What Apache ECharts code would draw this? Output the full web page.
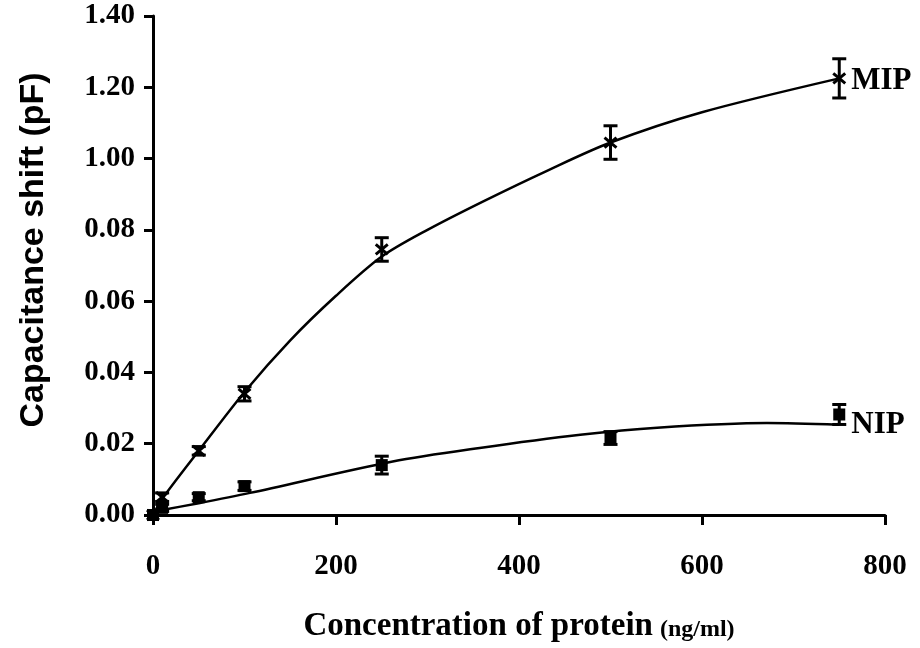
<!DOCTYPE html>
<html>
<head>
<meta charset="utf-8">
<script src="https://cdn.jsdelivr.net/npm/echarts@6/dist/echarts.min.js"></script>
<style>
  html, body { margin: 0; padding: 0; background: #ffffff; }
  #chart { width: 920px; height: 648px; }
</style>
</head>
<body>
<div id="chart"></div>
<script>
// Measured points (mean ± error) at each protein concentration, ng/ml
const concentrations = [0, 10, 50, 100, 250, 500, 750];
const mipValues = [0, 0.05, 0.18, 0.34, 0.745, 1.045, 1.225];
const mipErrors = [0, 0.012, 0.012, 0.02, 0.033, 0.047, 0.055];
const nipValues = [0, 0.02, 0.05, 0.081, 0.14, 0.216, 0.282];
const nipErrors = [0, 0.01, 0.01, 0.012, 0.025, 0.018, 0.028];

// Fitted trend curves
const mipFitX = [0, 10, 50, 100, 150, 200, 250, 300, 361, 430, 500, 600, 750];
const mipFitY = [0, 0.045, 0.18, 0.345, 0.49, 0.615, 0.725, 0.8, 0.88, 0.965, 1.045, 1.13, 1.225];
const nipFitX = [0, 10, 50, 106, 262, 357, 467, 551, 671, 750];
const nipFitY = [0.008, 0.014, 0.033, 0.062, 0.15, 0.188, 0.225, 0.245, 0.258, 0.253];

// Tick labels as printed on the value axis
const yTickLabels = ['0.00', '0.02', '0.04', '0.06', '0.08', '1.00', '1.20', '1.40'];
const xTickLabels = ['0', '200', '400', '600', '800'];

const serif = '"Liberation Serif", "Times New Roman", serif';
const sans = '"Liberation Sans", Arial, sans-serif';

function zip(xs, ys, es) {
  return xs.map((x, i) => es ? [x, ys[i], es[i]] : [x, ys[i]]);
}

// Error bar with caps plus a marker drawn at each mean
function pointWithError(markerKind) {
  return function (params, api) {
    const x = api.value(0), y = api.value(1), e = api.value(2);
    const c = api.coord([x, y]);
    const top = api.coord([x, y + e]);
    const bot = api.coord([x, y - e]);
    const stroke = { stroke: '#000', lineWidth: 3 };
    const cap = 7;
    const children = [];
    if (e > 0) {
      children.push(
        { type: 'line', shape: { x1: c[0], y1: top[1], x2: c[0], y2: bot[1] }, style: stroke },
        { type: 'line', shape: { x1: c[0] - cap, y1: top[1], x2: c[0] + cap, y2: top[1] }, style: stroke },
        { type: 'line', shape: { x1: c[0] - cap, y1: bot[1], x2: c[0] + cap, y2: bot[1] }, style: stroke }
      );
    }
    if (markerKind === 'cross') {
      const s = 6;
      children.push(
        { type: 'line', shape: { x1: c[0] - s, y1: c[1] - s + 1, x2: c[0] + s, y2: c[1] + s - 1 }, style: stroke },
        { type: 'line', shape: { x1: c[0] - s, y1: c[1] + s - 1, x2: c[0] + s, y2: c[1] - s + 1 }, style: stroke }
      );
    } else {
      const s = 6;
      children.push({ type: 'rect', shape: { x: c[0] - s, y: c[1] - s, width: 2 * s, height: 2 * s }, style: { fill: '#000' } });
    }
    return { type: 'group', children: children };
  };
}

const chart = echarts.init(document.getElementById('chart'), null, { renderer: 'canvas' });

const endLabelStyle = {
  show: true,
  formatter: '{a}',
  distance: 12,
  offset: [0, 3],
  color: '#000',
  fontFamily: serif,
  fontWeight: 'bold',
  fontSize: 31
};

chart.setOption({
  animation: false,
  backgroundColor: '#ffffff',
  grid: { left: 153, right: 35, top: 16, bottom: 133, containLabel: false },
  graphic: [
    {
      type: 'text',
      x: 34,
      y: 250,
      rotation: Math.PI / 2,
      style: {
        text: 'Capacitance shift (pF)',
        fill: '#000',
        font: 'bold 34px ' + sans,
        align: 'center',
        verticalAlign: 'middle'
      }
    }
  ],
  xAxis: {
    type: 'value',
    min: 0,
    max: 800,
    interval: 200,
    name: '{a|Concentration of protein}{b|(ng/ml)}',
    nameLocation: 'middle',
    nameGap: 92,
    nameTextStyle: {
      rich: {
        a: { fontFamily: serif, fontWeight: 'bold', fontSize: 33, color: '#000', lineHeight: 36, verticalAlign: 'bottom' },
        b: { fontFamily: serif, fontWeight: 'bold', fontSize: 24, color: '#000', lineHeight: 36, verticalAlign: 'bottom', padding: [0, 0, 1, 7] }
      }
    },
    axisLine: { show: true, onZero: false, lineStyle: { color: '#000', width: 3 } },
    axisTick: { show: true, length: 10, lineStyle: { color: '#000', width: 3 } },
    splitLine: { show: false },
    axisLabel: {
      margin: 37,
      color: '#000',
      fontFamily: serif,
      fontWeight: 'bold',
      fontSize: 29,
      formatter: v => xTickLabels[Math.round(v / 200)] ?? ''
    }
  },
  yAxis: {
    type: 'value',
    min: 0,
    max: 1.4,
    interval: 0.2,
    axisLine: { show: true, lineStyle: { color: '#000', width: 3 } },
    axisTick: { show: true, length: 9, lineStyle: { color: '#000', width: 3 } },
    splitLine: { show: false },
    axisLabel: {
      margin: 18,
      color: '#000',
      fontFamily: serif,
      fontWeight: 'bold',
      fontSize: 29,
      formatter: v => yTickLabels[Math.round(v / 0.2)] ?? ''
    }
  },
  series: [
    {
      name: 'MIP',
      type: 'line',
      data: zip(mipFitX, mipFitY),
      smooth: 0.3,
      symbol: 'none',
      lineStyle: { color: '#000', width: 2.5 },
      endLabel: endLabelStyle,
      z: 2
    },
    {
      name: 'NIP',
      type: 'line',
      data: zip(nipFitX, nipFitY),
      smooth: 0.3,
      symbol: 'none',
      lineStyle: { color: '#000', width: 2.5 },
      endLabel: Object.assign({}, endLabelStyle, { offset: [0, 0] }),
      z: 2
    },
    {
      name: 'MIP points',
      type: 'custom',
      renderItem: pointWithError('cross'),
      data: zip(concentrations, mipValues, mipErrors),
      encode: { x: 0, y: 1 },
      z: 3
    },
    {
      name: 'NIP points',
      type: 'custom',
      renderItem: pointWithError('square'),
      data: zip(concentrations, nipValues, nipErrors),
      encode: { x: 0, y: 1 },
      z: 3
    }
  ]
});
</script>
</body>
</html>
